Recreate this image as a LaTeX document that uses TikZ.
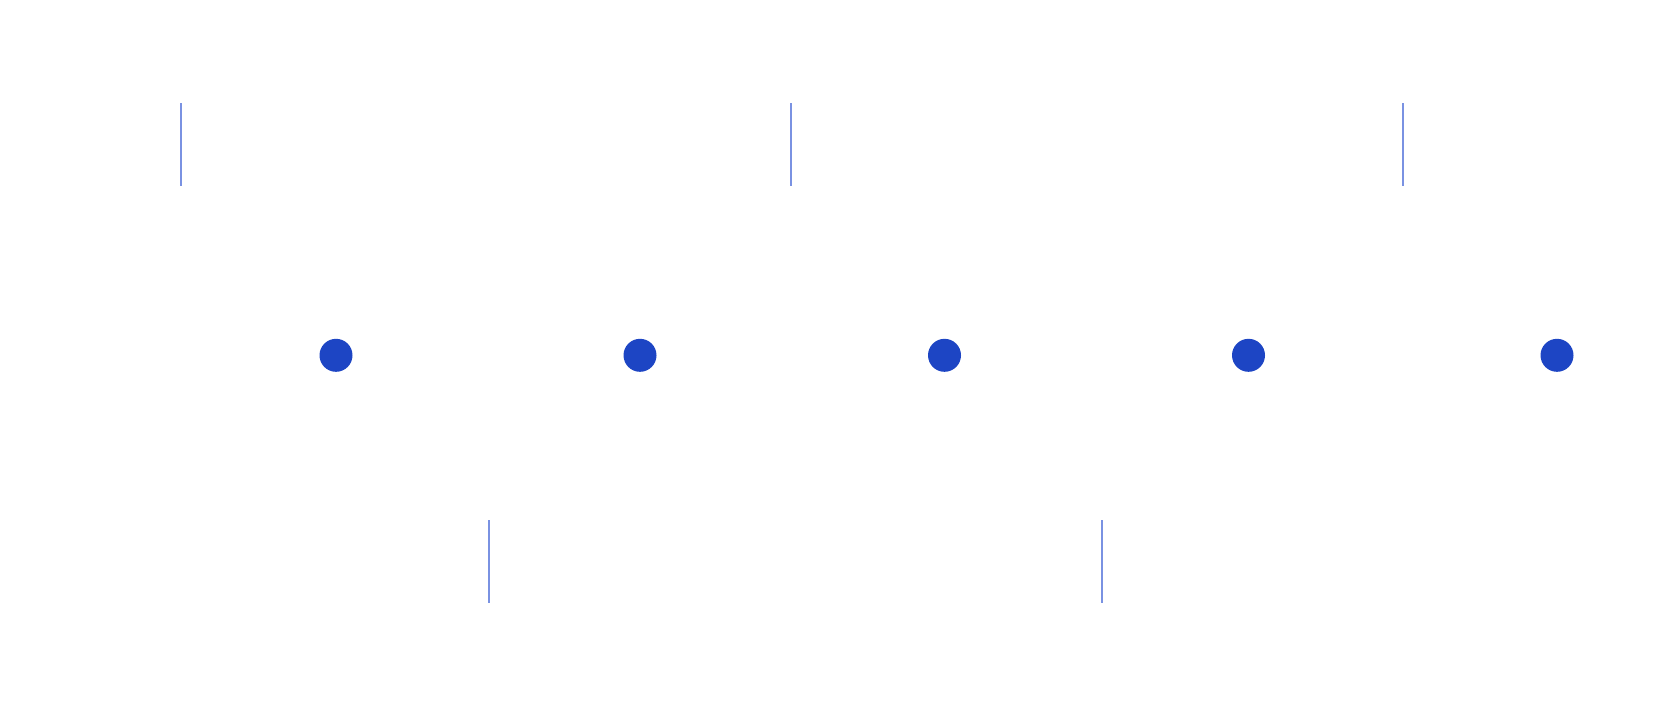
\documentclass[tikz,border=0pt]{standalone}
\definecolor{dotblue}{RGB}{29,69,196}
\definecolor{tickblue}{RGB}{122,146,226}
\tikzset{
  dotnode/.style={circle,fill=dotblue,draw=none,minimum size=33pt,inner sep=0pt},
  tickline/.style={draw=tickblue,line width=2pt}
}
\begin{document}
\begin{tikzpicture}[x=1pt,y=-1pt]
\useasboundingbox[fill=white] (0,0) rectangle (1658,704);
\node[dotnode] (d1) at (336,355.3) {};
\node[dotnode] (d2) at (640,355.3) {};
\node[dotnode] (d3) at (944.5,355.3) {};
\node[dotnode] (d4) at (1248.5,355.3) {};
\node[dotnode] (d5) at (1557,355.3) {};
\coordinate (t1a) at (181,103); \coordinate (t1b) at (181,186);
\coordinate (t2a) at (791,103); \coordinate (t2b) at (791,186);
\coordinate (t3a) at (1403,103); \coordinate (t3b) at (1403,186);
\coordinate (b1a) at (488.5,520); \coordinate (b1b) at (488.5,603);
\coordinate (b2a) at (1102,520); \coordinate (b2b) at (1102,603);
\draw[tickline] (t1a) -- (t1b);
\draw[tickline] (t2a) -- (t2b);
\draw[tickline] (t3a) -- (t3b);
\draw[tickline] (b1a) -- (b1b);
\draw[tickline] (b2a) -- (b2b);
\end{tikzpicture}
\end{document}
